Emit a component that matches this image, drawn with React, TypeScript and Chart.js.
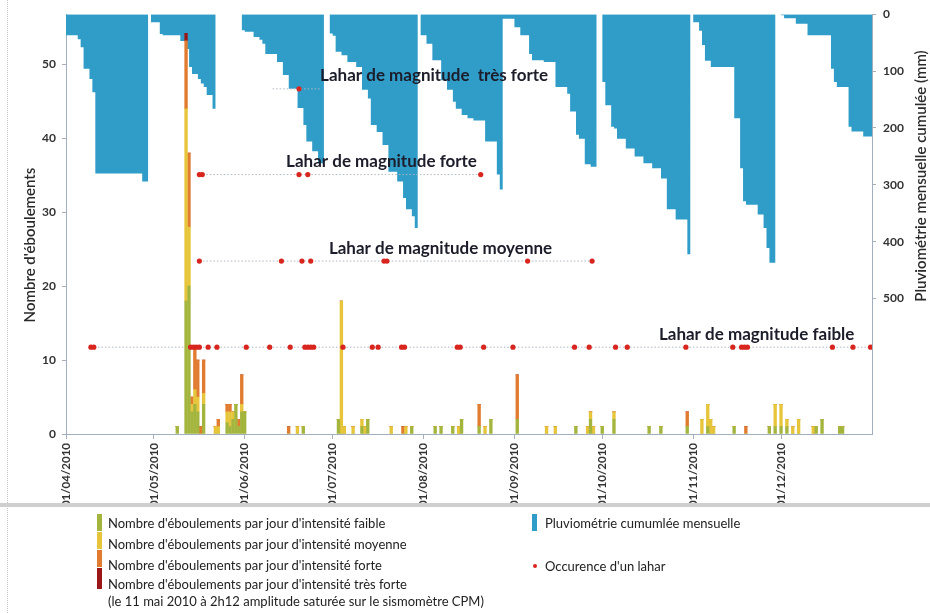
import React, { useEffect, useRef } from "react";
import { Chart, registerables } from "chart.js";
Chart.register(...registerables);

// ---------- X axis (days since 01/04/2010) ----------
const MONTH_START_DAYS = [0, 30, 61, 91, 122, 153, 183, 214, 244];
const MONTH_LABELS = [
  "01/04/2010", "01/05/2010", "01/06/2010", "01/07/2010", "01/08/2010",
  "01/09/2010", "01/10/2010", "01/11/2010", "01/12/2010",
];
const LAST_DAY = 275;

// ---------- Rockfalls per day (stacked by intensity) ----------
const BAR_DAYS = [37, 40, 41, 42, 43, 44, 45, 46, 50, 51, 54, 55, 56, 57, 58, 59, 60, 75, 78, 80, 92, 93, 94, 97, 100, 101, 102, 110, 114, 115, 117, 125, 127, 131, 133, 134, 140, 142, 144, 153, 163, 166, 173, 177, 178, 179, 182, 186, 198, 202, 211, 216, 218, 219, 220, 227, 231, 239, 241, 243, 245, 247, 249, 254, 255, 257, 263, 264];
const FAIBLE =     [1, 18, 20, 3, 4, 3, 0, 4, 0, 0, 1.5, 1, 2, 4, 1, 3, 3, 0, 0, 1, 2, 0, 0, 0, 1, 0, 2, 0, 0, 0, 1, 1, 1, 1, 0, 2, 1, 0, 2, 2, 0, 0, 1, 0, 2, 0, 1, 2, 1, 1, 1, 0, 1, 0, 0, 1, 0, 1, 1, 1, 1, 0, 0, 0, 1, 2, 1, 1];
const MOYENNE =    [0, 26, 8, 1, 2, 2, 0, 1.5, 1, 1, 1.5, 2, 1, 0, 0, 1, 0, 0, 1, 0, 0, 18, 1, 1, 1, 1, 0, 1, 0, 1, 0, 0, 0, 0, 1, 0, 0, 1, 0, 0, 1, 1, 0, 1, 1, 1, 0, 1, 0, 0, 0, 2, 3, 2, 1, 0, 0, 0, 3, 3, 1, 1, 2, 1, 0, 0, 0, 0];
const FORTE =      [0, 9.2, 10, 1, 6, 5, 1, 4.5, 0, 1, 1, 1, 0, 0, 1, 4, 0, 1, 0, 0, 0, 0, 0, 0, 0, 0, 0, 0, 1, 0, 0, 0, 0, 0, 0, 0, 3, 0, 0, 6, 0, 0, 0, 0, 0, 0, 0, 0, 0, 0, 2, 0, 0, 0, 0, 0, 1, 0, 0, 0, 0, 0, 0, 0, 0, 0, 0, 0];
const TRES_FORTE = [0, 1, 0, 0, 0, 0, 0, 0, 0, 0, 0, 0, 0, 0, 0, 0, 0, 0, 0, 0, 0, 0, 0, 0, 0, 0, 0, 0, 0, 0, 0, 0, 0, 0, 0, 0, 0, 0, 0, 0, 0, 0, 0, 0, 0, 0, 0, 0, 0, 0, 0, 0, 0, 0, 0, 0, 0, 0, 0, 0, 0, 0, 0, 0, 0, 0, 0, 0];

// ---------- Monthly cumulative rainfall (mm), step starts ----------
const RAIN_DAYS = [
  0, 4, 5, 6, 8, 9, 10, 26, 28, 29,
  32, 33, 39, 41, 42, 43, 45, 46, 47, 48, 50, 51, 60,
  61, 64, 66, 67, 68, 72, 74, 76, 79, 81, 82, 84, 86, 88, 90,
  91, 92, 94, 96, 99, 101, 103, 104, 106, 108, 110, 113, 115, 116, 118, 119, 120, 121,
  123, 125, 128, 130, 132, 133, 135, 137, 139, 143, 147, 148, 149,
  153, 155, 158, 159, 163, 167, 171, 172, 174, 175, 177, 179, 181, 183,
  184, 186, 187, 188, 191, 194, 197, 200, 203, 205, 208, 212, 213, 214,
  216, 217, 218, 220, 228, 230, 231, 232, 236, 238, 239, 240, 242, 244,
  245, 249, 253, 261, 262, 263, 267, 268, 272, 274, 275,
];
const RAIN_MM = [
  0, 37, 44, 58, 96, 114, 137, 280, 294, 0,
  14, 35, 37, 47, 61, 93, 105, 114, 122, 128, 142, 166, 0,
  28, 31, 40, 45, 52, 70, 84, 107, 131, 165, 195, 224, 241, 262, 0,
  34, 38, 66, 72, 84, 93, 133, 148, 195, 207, 230, 277, 294, 323, 343, 355, 376, 0,
  37, 52, 81, 116, 133, 154, 166, 177, 183, 187, 224, 282, 308,
  8, 23, 37, 70, 81, 84, 128, 140, 171, 212, 219, 264, 268, 0,
  119, 160, 198, 201, 219, 236, 250, 262, 271, 289, 343, 361, 422, 0,
  14, 29, 54, 82, 93, 183, 271, 329, 335, 352, 376, 411, 437, 0,
  2, 7, 17, 37, 96, 119, 128, 198, 206, 215, 215,
];

// ---------- Lahar occurrences (day index) per magnitude ----------
const LAHAR_FAIBLE_DAYS = [8, 9, 42, 43, 44, 45, 48, 51, 61, 69, 76, 81, 82, 83, 84, 94, 104, 106, 114, 115, 133, 134, 142, 152, 173, 178, 187, 191, 211, 227, 230, 231, 232, 261, 268, 274];
const LAHAR_MOYENNE_DAYS = [45, 73, 80, 83, 108, 109, 157, 179];
const LAHAR_FORTE_DAYS = [45, 46, 79, 82, 141];
const LAHAR_TRES_FORTE_DAYS = [79];
const TRES_FORTE_GUIDE_DAYS = [70, 86];

// level heights on the left axis
const LEVEL_FAIBLE = 11.75;
const LEVEL_MOYENNE = 23.4;
const LEVEL_FORTE = 35.1;
const LEVEL_TRES_FORTE = 46.7;

const LAHAR_LABELS = [
  "Lahar de magnitude faible",
  "Lahar de magnitude moyenne",
  "Lahar de magnitude forte",
  "Lahar de magnitude  très forte",
];
const LEFT_TICKS = [0, 10, 20, 30, 40, 50];
const RIGHT_TICKS = [0, 100, 200, 300, 400, 500];

const LEFT_TITLE = "Nombre d'éboulements";
const RIGHT_TITLE = "Pluviométrie mensuelle cumulée (mm)";

const LEGEND_BARS = [
  "Nombre d'éboulements par jour d'intensité faible",
  "Nombre d'éboulements par jour d'intensité moyenne",
  "Nombre d'éboulements par jour d'intensité forte",
  "Nombre d'éboulements par jour d'intensité très forte",
];
const LEGEND_NOTE = "(le 11 mai 2010 à 2h12 amplitude saturée sur le sismomètre CPM)";
const LEGEND_RAIN = "Pluviométrie cumumlée mensuelle";
const LEGEND_LAHAR = "Occurence d'un lahar";

// ---------- styles ----------
const C_FAIBLE = "#a3b53d";
const C_MOYENNE = "#e7c53b";
const C_FORTE = "#e17b2f";
const C_TRES_FORTE = "#9b1717";
const C_RAIN = "#2f9dc8";
const C_LAHAR = "#d8261f";
const C_GUIDE = "#aeb7c2";
const C_AXIS = "#a4afbd";
const C_TEXT = "#333333";

const LEFT_MAX = 56.8;
const RIGHT_MAX = 738;

const LABEL_X = [202.3, 89.7, 75.1, 86.7];

const annotPlugin = {
  id: "annot",
  afterDatasetsDraw(chart: any) {
    const ctx = chart.ctx;
    const xs = chart.scales.x;
    const ys = chart.scales.yl;
    const levels = [LEVEL_FAIBLE, LEVEL_MOYENNE, LEVEL_FORTE, LEVEL_TRES_FORTE];
    ctx.save();
    ctx.font = "bold 17px Lato";
    ctx.fillStyle = "#1c1c2a";
    ctx.textAlign = "left";
    ctx.textBaseline = "middle";
    LAHAR_LABELS.forEach((t, i) => {
      ctx.fillText(t, xs.getPixelForValue(LABEL_X[i]), ys.getPixelForValue(levels[i]) - 13);
    });
    ctx.restore();

    ctx.save();
    ctx.font = "600 15px Lato";
    ctx.fillStyle = "#2a2a2a";
    ctx.textAlign = "center";
    ctx.textBaseline = "middle";
    ctx.translate(30, 245);
    ctx.rotate(-Math.PI / 2);
    ctx.fillText(LEFT_TITLE, 0, 0);
    ctx.restore();

    ctx.save();
    ctx.font = "600 15px Lato";
    ctx.fillStyle = "#2a2a2a";
    ctx.textAlign = "center";
    ctx.textBaseline = "middle";
    ctx.translate(921, 176);
    ctx.rotate(-Math.PI / 2);
    ctx.fillText(RIGHT_TITLE, 0, 0);
    ctx.restore();
  },
};

function pts(days: number[], level: number) {
  return days.map((d) => ({ x: d, y: level }));
}
function guide(days: number[], level: number) {
  return [
    { x: Math.min(...days), y: level },
    { x: Math.max(...days), y: level },
  ];
}

export default function App() {
  const ref = useRef<HTMLCanvasElement | null>(null);

  useEffect(() => {
    document.body.style.margin = "0";
    const canvas = ref.current;
    if (!canvas) return;

    const barDs = (label: string, vals: number[], color: string) => ({
      type: "bar" as const,
      label,
      data: BAR_DAYS.map((d, i) => ({ x: d, y: vals[i] })),
      backgroundColor: color,
      borderWidth: 0,
      barThickness: 2.7,
      xAxisID: "xd",
      yAxisID: "y",
      order: 2,
    });
    const dotDs = (days: number[], level: number) => ({
      type: "line" as const,
      data: pts(days, level),
      showLine: false,
      pointRadius: 2.6,
      pointBackgroundColor: C_LAHAR,
      pointBorderWidth: 0,
      xAxisID: "xd",
      yAxisID: "yl",
      order: 1,
    });
    const guideDs = (data: any[]) => ({
      type: "line" as const,
      data,
      borderColor: C_GUIDE,
      borderWidth: 1,
      borderDash: [1.5, 2],
      pointRadius: 0,
      fill: false,
      xAxisID: "xd",
      yAxisID: "yl",
      order: 3,
    });

    const chart = new Chart(canvas, {
      type: "bar",
      data: {
        datasets: [
          {
            type: "line",
            label: LEGEND_RAIN,
            data: RAIN_DAYS.map((d, i) => ({ x: d, y: RAIN_MM[i] })),
            stepped: "after",
            fill: "origin",
            backgroundColor: C_RAIN,
            borderWidth: 0,
            borderColor: "rgba(0,0,0,0)",
            pointRadius: 0,
            xAxisID: "x",
            yAxisID: "yr",
            order: 4,
          } as any,
          guideDs(guide(LAHAR_FAIBLE_DAYS, LEVEL_FAIBLE)),
          guideDs(guide(LAHAR_MOYENNE_DAYS, LEVEL_MOYENNE)),
          guideDs(guide(LAHAR_FORTE_DAYS, LEVEL_FORTE)),
          guideDs(pts(TRES_FORTE_GUIDE_DAYS, LEVEL_TRES_FORTE)),
          barDs(LEGEND_BARS[0], FAIBLE, C_FAIBLE),
          barDs(LEGEND_BARS[1], MOYENNE, C_MOYENNE),
          barDs(LEGEND_BARS[2], FORTE, C_FORTE),
          barDs(LEGEND_BARS[3], TRES_FORTE, C_TRES_FORTE),
          dotDs(LAHAR_FAIBLE_DAYS, LEVEL_FAIBLE),
          dotDs(LAHAR_MOYENNE_DAYS, LEVEL_MOYENNE),
          dotDs(LAHAR_FORTE_DAYS, LEVEL_FORTE),
          dotDs(LAHAR_TRES_FORTE_DAYS, LEVEL_TRES_FORTE),
        ] as any,
      },
      options: {
        responsive: false,
        animation: false,
        devicePixelRatio: 1,
        layout: { padding: { top: 12, left: 0, right: 0, bottom: 0 } },
        plugins: { legend: { display: false }, tooltip: { enabled: false } },
        scales: {
          x: {
            type: "linear",
            min: 0,
            max: LAST_DAY,
            offset: false,
            afterBuildTicks: (s: any) => {
              s.ticks = MONTH_START_DAYS.map((v) => ({ value: v }));
            },
            afterFit: (s: any) => {
              s.height = 69;
            },
            ticks: {
              autoSkip: false,
              minRotation: 90,
              maxRotation: 90,
              padding: 4,
              color: C_TEXT,
              font: { family: "Lato", size: 11.5, weight: "bold" },
              callback: (_v: any, i: number) => MONTH_LABELS[i],
            },
            grid: { drawOnChartArea: false, tickLength: 5, color: C_AXIS, offset: false },
            border: { color: C_AXIS },
          },
          xd: {
            type: "linear",
            display: false,
            min: -0.5,
            max: LAST_DAY - 0.5,
            offset: false,
            stacked: true,
            grid: { offset: false },
          },
          y: {
            type: "linear",
            position: "left",
            min: 0,
            max: LEFT_MAX,
            stacked: true,
            afterBuildTicks: (s: any) => {
              s.ticks = LEFT_TICKS.map((v) => ({ value: v }));
            },
            afterFit: (s: any) => {
              s.width = 66;
            },
            ticks: {
              padding: 6,
              color: C_TEXT,
              font: { family: "Lato", size: 12, weight: "bold" },
            },
            grid: { drawOnChartArea: false, tickLength: 4, color: C_AXIS },
            border: { color: C_AXIS },
          },
          yl: {
            type: "linear",
            display: false,
            min: 0,
            max: LEFT_MAX,
          },
          yr: {
            type: "linear",
            position: "right",
            reverse: true,
            min: 0,
            max: RIGHT_MAX,
            afterBuildTicks: (s: any) => {
              s.ticks = RIGHT_TICKS.map((v) => ({ value: v }));
            },
            afterFit: (s: any) => {
              s.width = 58;
            },
            ticks: {
              padding: 7,
              color: C_TEXT,
              font: { family: "Lato", size: 12, weight: "bold" },
            },
            grid: { drawOnChartArea: false, tickLength: 4, color: C_AXIS },
            border: { color: C_AXIS },
          },
        } as any,
      },
      plugins: [annotPlugin],
    });
    return () => chart.destroy();
  }, []);

  const textStyle = (left: number, center: number): React.CSSProperties => ({
    position: "absolute",
    left,
    top: center - 8,
    lineHeight: "16px",
    whiteSpace: "nowrap",
  });
  const sw = (left: number, top: number, h: number, color: string): React.CSSProperties => ({
    position: "absolute",
    left,
    top,
    width: 5,
    height: h,
    background: color,
  });
  const L0 = 503;

  return (
    <div style={{ position: "relative", width: 930, height: 613, overflow: "hidden", background: "#fff" }}>
      <canvas ref={ref} width={930} height={503} style={{ display: "block", width: 930, height: 503 }} />
      <div style={{ position: "absolute", left: 7, top: 0, width: 0, height: 613, borderLeft: "1px dotted #c4c4c4" }} />
      <div
        style={{
          position: "absolute",
          left: 0,
          top: L0,
          width: 930,
          height: 110,
          fontFamily: "Lato, 'Open Sans', sans-serif",
          fontSize: 13,
          color: "#222",
        }}
      >
        <div style={{ position: "absolute", left: 0, top: 0, width: 930, height: 4, background: "#cfcfcf" }} />
        <div style={sw(97, 514 - L0, 17, C_FAIBLE)} />
        <div style={sw(97, 532 - L0, 17, C_MOYENNE)} />
        <div style={sw(97, 550 - L0, 17, C_FORTE)} />
        <div style={sw(97, 568 - L0, 21, C_TRES_FORTE)} />
        <div style={textStyle(108, 523 - L0)}>{LEGEND_BARS[0]}</div>
        <div style={textStyle(108, 544 - L0)}>{LEGEND_BARS[1]}</div>
        <div style={textStyle(108, 565 - L0)}>{LEGEND_BARS[2]}</div>
        <div style={textStyle(108, 584 - L0)}>{LEGEND_BARS[3]}</div>
        <div style={textStyle(108, 601 - L0)}>{LEGEND_NOTE}</div>
        <div style={sw(532, 514 - L0, 17, C_RAIN)} />
        <div style={textStyle(545, 523 - L0)}>{LEGEND_RAIN}</div>
        <div
          style={{
            position: "absolute",
            left: 533,
            top: 564 - L0,
            width: 4,
            height: 4,
            borderRadius: 2,
            background: C_LAHAR,
          }}
        />
        <div style={textStyle(545, 566 - L0)}>{LEGEND_LAHAR}</div>
      </div>
    </div>
  );
}
